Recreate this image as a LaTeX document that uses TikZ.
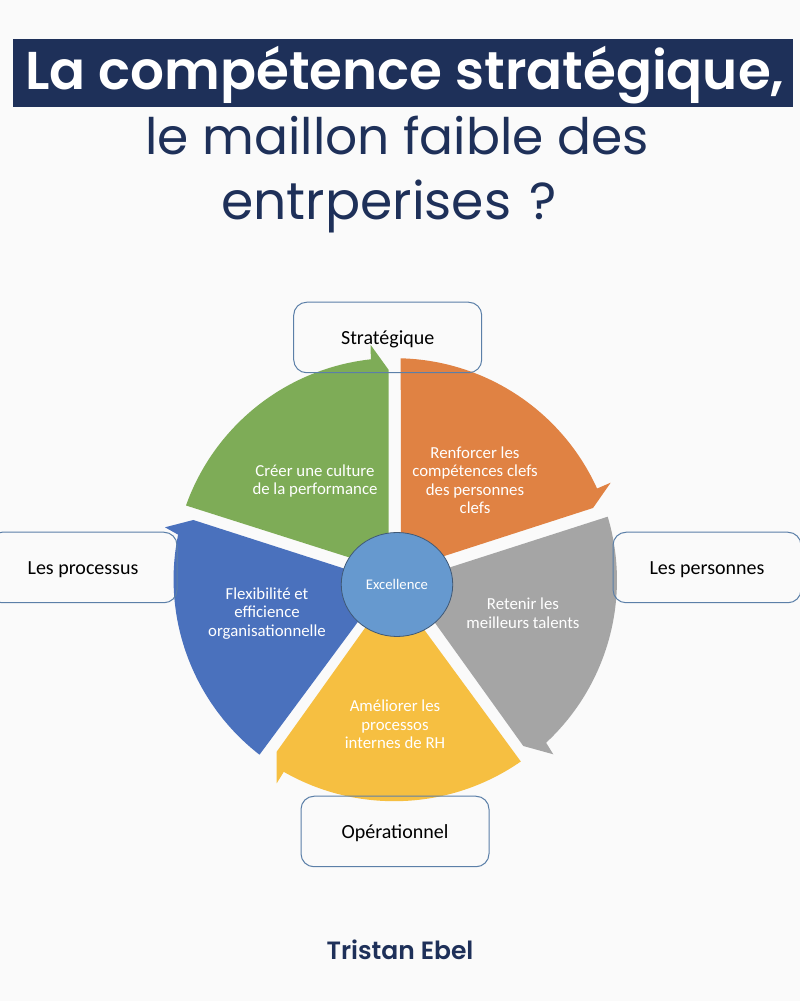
\documentclass[tikz,border=0pt]{standalone}
\usepackage{fontspec}
\usetikzlibrary{shapes.geometric}
\setmainfont{Carlito}
\newfontfamily\titlefont{Poppins}
\newfontfamily\headfont{Poppins SemiBold}
\definecolor{navy}{HTML}{1E3059}
\definecolor{paper}{HTML}{FAFAFA}
\definecolor{boxline}{HTML}{5B7FA8}
\definecolor{sgreen}{HTML}{7EAC57}
\definecolor{sorange}{HTML}{E08243}
\definecolor{sgray}{HTML}{A5A5A5}
\definecolor{syellow}{HTML}{F6BF41}
\definecolor{sblue}{HTML}{4A71BD}
\definecolor{shub}{HTML}{6699CF}
\tikzset{
    axis/.style={draw=boxline, line width=1pt, rounded corners=13pt, minimum width=188pt, minimum height=70.5pt, inner sep=0pt, text height=19pt, text depth=4pt, font=\fontsize{20}{24}\selectfont, text=black},
    sector/.style={align=center, text=white, inner sep=0pt, font=\fontsize{16.8}{18.5}\selectfont},
    heading/.style={anchor=base, text=navy, inner sep=0pt, font=\titlefont\fontsize{50.3}{60}\selectfont}
}
\begin{document}
\begin{tikzpicture}[x=1pt, y=1pt]
    \useasboundingbox (0,0) rectangle (800,1001);
    \fill[paper] (0,0) rectangle (800,1001);
    \node[fill=navy, minimum width=780pt, minimum height=68pt, inner sep=0pt](titlebar) at (403,928) {};
    \node[anchor=base, text=white, inner sep=0pt, font=\headfont\fontsize{53.2}{60}\selectfont](title) at (405,911) {La compétence stratégique,};
    \node[heading](subone) at (397,846) {le maillon faible des};
    \node[heading, font=\titlefont\fontsize{52}{60}\selectfont](subtwo) at (389,781) {entrperises\hspace{18pt}?};
    \fill[sgreen] (186,495.5) arc[start angle=160.4, end angle=96.3, radius=222] -- (370.7,656) -- (388.7,631) -- (388.7,431) -- cycle;
    \fill[sorange] (400.7,642.7) arc[start angle=88.5, end angle=24.4, radius=222] -- (610.7,518.3) -- (593,493) -- (401,431) -- cycle;
    \fill[sgray] (607.7,484.3) arc[start angle=16.6, end angle=-47.1, radius=222] -- (553.3,246.7) -- (523.3,255) -- (415,406) -- (420,424) -- cycle;
    \fill[syellow] (520.8,239.5) arc[start angle=-55.2, end angle=-119.8, radius=222] -- (276.7,217.7) -- (276.7,249.3) -- (385,401) -- (405,397.5) -- cycle;
    \fill[sblue] (259.5,246.3) arc[start angle=232.2, end angle=168.4, radius=222] -- (165,473.7) -- (193.3,481) -- (375,422.5) -- (380,409) -- cycle;
    \node[ellipse, draw=boxline!70!black, fill=shub, line width=0.8pt, minimum width=111.5pt, minimum height=104pt, inner sep=0pt, text height=12pt, text depth=2.4pt, text=white, font=\fontsize{14.7}{16}\selectfont](hub) at (397,416.5) {Excellence};
    \node[axis](strategique) at (387.7,663.5) {Stratégique};
    \node[axis](personnes) at (707,433.5) {Les personnes};
    \node[axis](processus) at (83,433.5) {Les processus};
    \node[axis](operationnel) at (395,169.5) {Opérationnel};
    \node[sector](culture) at (315,520) {Créer une culture\\de la performance};
    \node[sector](clefs) at (475,521) {Renforcer les\\compétences clefs\\des personnes\\clefs};
    \node[sector](talents) at (523,388) {Retenir les\\meilleurs talents};
    \node[sector](internes) at (395,276.5) {Améliorer les\\processos\\internes de RH};
    \node[sector](flexibilite) at (267,387.5) {Flexibilité et\\efficience\\organisationnelle};
    \node[text=navy, inner sep=0pt, font=\headfont\fontsize{25}{28}\selectfont](signature) at (400,51) {Tristan Ebel};
\end{tikzpicture}
\end{document}
